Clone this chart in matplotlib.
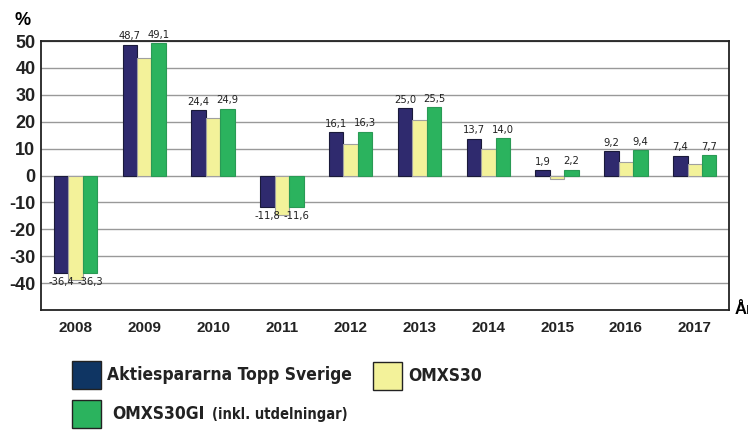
import numpy as np
import matplotlib
matplotlib.use("Agg")
import matplotlib.pyplot as plt
from matplotlib.patches import Rectangle

years = ['2008', '2009', '2010', '2011', '2012', '2013', '2014', '2015', '2016', '2017']
topp_sverige = [-36.4, 48.7, 24.4, -11.8, 16.1, 25.0, 13.7, 1.9, 9.2, 7.4]
omxs30 = [-38.7, 43.7, 21.4, -14.5, 11.8, 20.7, 9.9, -1.2, 4.9, 4.4]
omxs30gi = [-36.3, 49.1, 24.9, -11.6, 16.3, 25.5, 14.0, 2.2, 9.4, 7.7]

c_dark = '#2f2a6e'
c_yellow = '#f3f29a'
c_green = '#2bb35e'
c_legend_dark = '#0f3563'

sans = ['Liberation Sans', 'DejaVu Sans']

fig = plt.figure(figsize=(7.48, 4.32), dpi=100)
ax = fig.add_axes([0.0548, 0.2824, 0.92, 0.6226])

x = np.arange(len(years))
w = 0.21
ax.bar(x - w, topp_sverige, w, color=c_dark, edgecolor='#1a1a3a', linewidth=0.8, zorder=3)
ax.bar(x, omxs30, w, color=c_yellow, edgecolor='#a0a0a0', linewidth=0.8, zorder=3)
ax.bar(x + w, omxs30gi, w, color=c_green, edgecolor='#2a9a55', linewidth=0.8, zorder=3)

def fmt(v):
    return ('%.1f' % v).replace('.', ',')

lab = dict(ha='center', fontsize=8, family='DejaVu Sans', fontstretch='condensed', color='#222222')
for xs, vals in ((x - w, topp_sverige), (x + w, omxs30gi)):
    for xi, v in zip(xs, vals):
        if v >= 0:
            ax.text(xi, v + 1.2, fmt(v), va='bottom', **lab)
        else:
            ax.text(xi, v - 1.5, fmt(v), va='top', **lab)

ax.set_xlim(-0.5, len(years) - 0.5)
ax.set_ylim(-50, 50)
ax.set_yticks(range(-40, 51, 10))
ax.set_yticklabels([str(t) for t in range(-40, 51, 10)], fontsize=13, fontweight='bold', family=sans)
ax.set_xticks(x)
ax.set_xticklabels(years, fontsize=11, fontweight='bold', family=sans)
ax.tick_params(axis='both', length=0, pad=4, colors='#222222')
ax.tick_params(axis='x', pad=8)
ax.grid(axis='y', color='#999999', linewidth=1.0, zorder=0)
for s in ax.spines.values():
    s.set_linewidth(1.3)
    s.set_color('#222222')

fig.text(0.030, 0.953, '%', fontsize=13, fontweight='bold', ha='center', va='center', family=sans)
fig.text(0.982, 0.283, 'År', fontsize=12, fontweight='bold', ha='left', va='center', family=sans)

# legend drawn by hand
W, H = 748.0, 432.0
def box(px, py, color):
    fig.patches.append(Rectangle((px / W, 1 - (py + 28) / H), 29 / W, 28 / H, transform=fig.transFigure,
                                 facecolor=color, edgecolor='#222222', linewidth=1.0))

lg = dict(fontweight='bold', va='center', family='DejaVu Sans', fontstretch='condensed', color='#222222')
box(72, 361, c_legend_dark)
fig.text(107 / W, 1 - 375 / H, 'Aktiespararna Topp Sverige', fontsize=12.5, **lg)
box(373, 362, c_yellow)
fig.text(408 / W, 1 - 376 / H, 'OMXS30', fontsize=12.5, **lg)
box(72, 400, c_green)
fig.text(112 / W, 1 - 414 / H, 'OMXS30GI', fontsize=12.5, **lg)
fig.text(212 / W, 1 - 415 / H, '(inkl. utdelningar)', fontsize=10.5, **lg)

fig.savefig('out.png', dpi=100)
